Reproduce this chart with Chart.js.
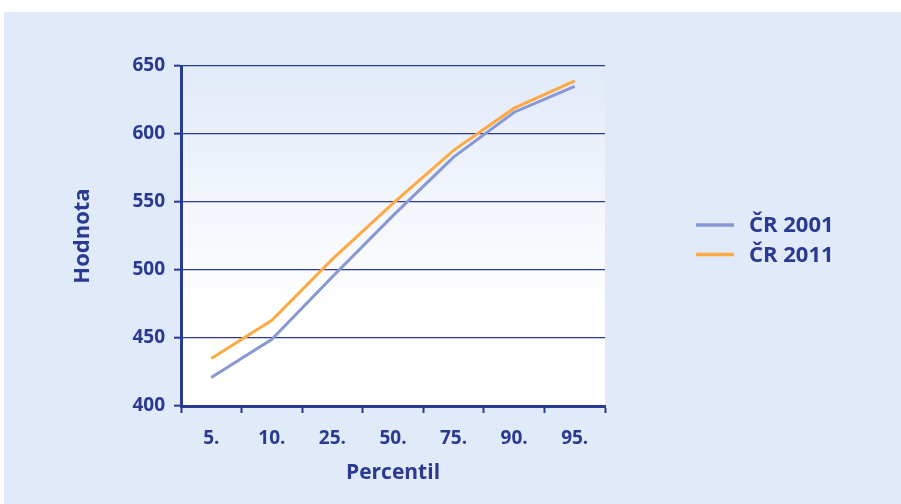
<!DOCTYPE html>
<html>
<head>
<meta charset="utf-8">
<script src="https://cdn.jsdelivr.net/npm/chart.js@4/dist/chart.umd.min.js"></script>
<style>
  html, body { margin: 0; padding: 0; background: #ffffff; }
  #wrap { width: 901px; height: 504px; position: relative; }
</style>
</head>
<body>
<div id="wrap"><canvas id="c" width="901" height="504"></canvas></div>
<script>
// Percentile categories and scores
const percentiles = ['5.', '10.', '25.', '50.', '75.', '90.', '95.'];
const cr2001 = [421, 449, 495, 540, 583, 616, 635];
const cr2011 = [435, 463, 508, 549, 588, 619, 639];
const seriesLabels = ['ČR 2001', 'ČR 2011'];
const yTicks = [400, 450, 500, 550, 600, 650];

const INK = '#2a3a92';
const FONT = "'Open Sans', 'Noto Sans', sans-serif";

// Light panel behind the whole chart, gradient fill behind the plot area
const backdrop = {
  id: 'backdrop',
  beforeDraw(chart) {
    const { ctx, chartArea: a } = chart;
    ctx.save();
    ctx.fillStyle = '#ffffff';
    ctx.fillRect(0, 0, chart.width, chart.height);
    ctx.fillStyle = '#e1eaf8';
    ctx.fillRect(4, 12, chart.width - 4, chart.height - 12);
    const g = ctx.createLinearGradient(0, a.top, 0, a.bottom);
    g.addColorStop(0, '#e2eaf8');
    g.addColorStop(0.72, '#ffffff');
    g.addColorStop(1, '#ffffff');
    ctx.fillStyle = g;
    ctx.fillRect(a.left, a.top, a.right - a.left, a.bottom - a.top);
    ctx.restore();
  }
};

// Legend drawn to the right of the plot, one line swatch per series
const sideLegend = {
  id: 'sideLegend',
  afterDraw(chart) {
    const { ctx } = chart;
    ctx.save();
    ctx.font = "bold 22px " + FONT;
    ctx.textBaseline = 'middle';
    ctx.textAlign = 'left';
    chart.data.datasets.forEach((ds, i) => {
      const y = 225 + i * 29.5;
      ctx.strokeStyle = ds.borderColor;
      ctx.lineWidth = 3.5;
      ctx.beginPath();
      ctx.moveTo(696, y);
      ctx.lineTo(734, y);
      ctx.stroke();
      ctx.fillStyle = INK;
      ctx.fillText(ds.label, 749, y + 1);
    });
    ctx.restore();
  }
};

new Chart(document.getElementById('c'), {
  type: 'line',
  data: {
    labels: percentiles,
    datasets: [
      {
        label: seriesLabels[0],
        data: cr2001,
        borderColor: '#8898d3',
        borderWidth: 3,
        pointRadius: 0,
        tension: 0,
        fill: false
      },
      {
        label: seriesLabels[1],
        data: cr2011,
        borderColor: '#fdaa45',
        borderWidth: 3,
        pointRadius: 0,
        tension: 0,
        fill: false
      }
    ]
  },
  options: {
    responsive: false,
    animation: false,
    layout: { padding: { top: 66, right: 296, bottom: 0, left: 0 } },
    plugins: {
      legend: { display: false },
      tooltip: { enabled: false }
    },
    scales: {
      x: {
        offset: true,
        grid: {
          offset: true,
          drawOnChartArea: false,
          drawTicks: true,
          tickLength: 7,
          tickWidth: 2,
          tickColor: INK
        },
        border: { display: true, color: INK, width: 3 },
        ticks: {
          color: INK,
          font: { family: FONT, size: 19, weight: 'bold' },
          padding: 14
        },
        title: {
          display: true,
          text: 'Percentil',
          color: INK,
          font: { family: FONT, size: 21, weight: 'bold' },
          padding: { top: 0, bottom: 18 }
        },
        afterFit(scale) { scale.height = 98; }
      },
      y: {
        min: 400,
        max: 650,
        afterBuildTicks(scale) { scale.ticks = yTicks.map(v => ({ value: v })); },
        grid: {
          color: INK,
          lineWidth: 1.3,
          drawTicks: true,
          tickLength: 7,
          tickWidth: 2,
          tickColor: INK
        },
        border: { display: true, color: INK, width: 3 },
        ticks: {
          color: INK,
          font: { family: FONT, size: 19, weight: 'bold' },
          padding: 9
        },
        title: {
          display: true,
          text: 'Hodnota',
          color: INK,
          font: { family: FONT, size: 22, weight: 'bold' },
          padding: { top: 70, bottom: 0 }
        },
        afterFit(scale) { scale.width = 181; }
      }
    }
  },
  plugins: [backdrop, sideLegend]
});
</script>
</body>
</html>
